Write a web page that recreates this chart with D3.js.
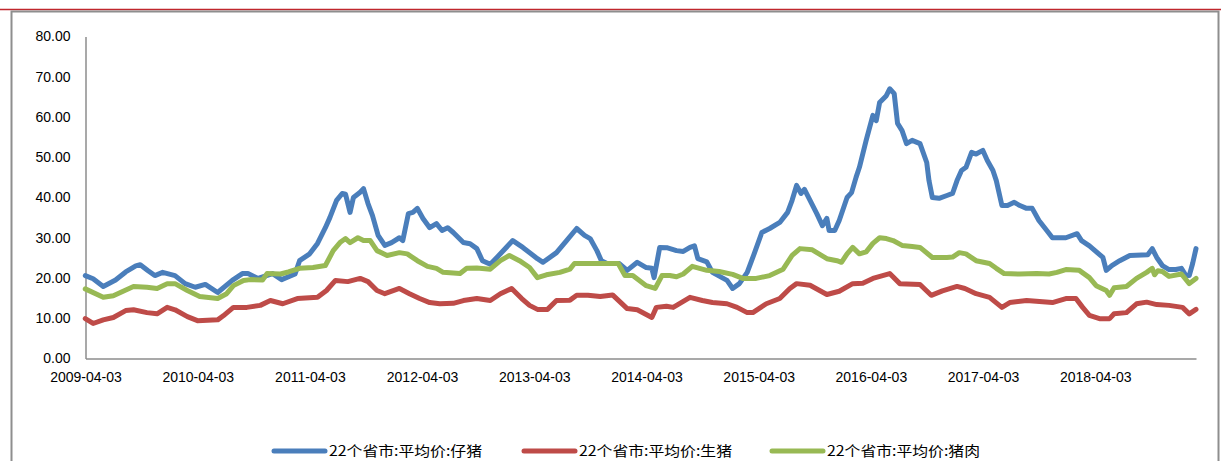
<!DOCTYPE html>
<html><head><meta charset="utf-8">
<script src="https://cdn.jsdelivr.net/npm/d3@7"></script>
<style>
html,body{margin:0;padding:0;background:#fff;overflow:hidden;}
svg{display:block;}
</style></head>
<body>
<script>
// time in decimal years, values in 元/公斤
const seriesNames = ["22个省市:平均价:仔猪", "22个省市:平均价:生猪", "22个省市:平均价:猪肉"];
const seriesColors = ["#4a7ebb", "#be4b48", "#98b954"];
const xTickLabels = ["2009-04-03","2010-04-03","2011-04-03","2012-04-03","2013-04-03","2014-04-03","2015-04-03","2016-04-03","2017-04-03","2018-04-03"];
const yTicks = [0,10,20,30,40,50,60,70,80];

const piglet = [
[2009.25,20.6],[2009.32,19.8],[2009.41,17.9],[2009.52,19.5],[2009.61,21.5],[2009.70,23.0],[2009.74,23.3],[2009.81,21.8],[2009.87,20.6],[2009.94,21.4],
[2010.05,20.6],[2010.14,18.6],[2010.23,17.7],[2010.32,18.4],[2010.43,16.4],[2010.56,19.4],[2010.65,21.1],[2010.70,21.1],[2010.79,19.9],[2010.92,21.1],
[2011.00,19.6],[2011.12,21.0],[2011.16,24.3],[2011.25,26.0],[2011.32,28.6],[2011.39,32.5],[2011.43,35.0],[2011.49,39.3],[2011.54,41.0],[2011.57,40.8],
[2011.61,36.3],[2011.64,40.0],[2011.70,41.3],[2011.73,42.2],[2011.77,38.5],[2011.81,35.5],[2011.86,30.6],[2011.92,28.1],[2011.98,28.8],[2012.05,30.0],
[2012.08,29.3],[2012.13,36.0],[2012.17,36.3],[2012.21,37.3],[2012.26,34.8],[2012.32,32.5],[2012.38,33.5],[2012.43,31.8],[2012.48,32.5],[2012.53,31.3],
[2012.62,28.8],[2012.68,28.5],[2012.74,27.3],[2012.79,24.3],[2012.86,23.4],[2012.95,26.0],[2013.06,29.3],[2013.15,27.6],[2013.28,24.8],[2013.33,23.9],
[2013.45,26.3],[2013.54,29.3],[2013.63,32.3],[2013.70,30.6],[2013.75,29.8],[2013.81,26.8],[2013.85,24.3],[2013.90,23.6],[2014.01,23.6],[2014.08,21.9],
[2014.17,23.9],[2014.25,22.6],[2014.30,22.4],[2014.32,20.1],[2014.37,27.6],[2014.44,27.5],[2014.52,26.8],[2014.58,26.6],[2014.64,27.6],[2014.68,28.0],
[2014.71,24.8],[2014.79,24.0],[2014.84,21.4],[2014.97,19.4],[2015.02,17.4],[2015.08,18.6],[2015.15,21.4],[2015.20,25.1],[2015.28,31.3],[2015.35,32.3],
[2015.44,33.8],[2015.51,36.3],[2015.55,39.3],[2015.59,43.0],[2015.63,41.0],[2015.66,42.0],[2015.71,39.3],[2015.77,36.0],[2015.82,33.0],[2015.86,34.8],
[2015.88,31.8],[2015.93,31.8],[2015.97,34.3],[2016.04,40.0],[2016.08,41.2],[2016.12,45.0],[2016.15,47.5],[2016.21,54.2],[2016.27,60.4],[2016.30,59.1],
[2016.33,63.6],[2016.39,65.3],[2016.42,67.0],[2016.46,65.8],[2016.49,58.4],[2016.53,56.6],[2016.57,53.4],[2016.62,54.2],[2016.69,53.4],[2016.75,48.7],
[2016.77,44.2],[2016.80,40.0],[2016.86,39.8],[2016.93,40.5],[2016.98,41.0],[2017.02,44.2],[2017.06,46.7],[2017.10,47.5],[2017.15,51.2],[2017.19,50.8],
[2017.25,51.7],[2017.29,49.2],[2017.34,46.7],[2017.37,44.2],[2017.42,38.0],[2017.47,38.0],[2017.53,38.8],[2017.58,38.0],[2017.64,37.3],[2017.69,37.3],
[2017.75,34.3],[2017.82,31.8],[2017.87,30.0],[2017.99,30.0],[2018.09,31.0],[2018.13,29.3],[2018.20,28.0],[2018.32,25.1],[2018.35,21.9],[2018.40,23.1],
[2018.47,24.3],[2018.56,25.6],[2018.72,25.8],[2018.76,27.3],[2018.80,25.1],[2018.85,23.1],[2018.91,22.1],[2018.97,22.1],[2019.02,22.4],[2019.06,20.6],
[2019.09,20.6],[2019.12,23.6],[2019.15,27.3]
];

const hog = [
[2009.25,9.9],[2009.32,8.7],[2009.41,9.6],[2009.50,10.2],[2009.61,11.9],[2009.68,12.1],[2009.80,11.4],[2009.89,11.1],[2009.98,12.7],[2010.05,12.1],
[2010.16,10.4],[2010.25,9.4],[2010.43,9.6],[2010.48,10.6],[2010.57,12.7],[2010.69,12.7],[2010.81,13.2],[2010.90,14.4],[2011.01,13.6],[2011.14,14.9],
[2011.32,15.2],[2011.40,16.9],[2011.48,19.4],[2011.59,19.1],[2011.70,19.9],[2011.77,19.1],[2011.85,16.9],[2011.92,16.1],[2012.05,17.4],[2012.14,16.1],
[2012.23,14.9],[2012.32,13.9],[2012.41,13.6],[2012.53,13.7],[2012.62,14.4],[2012.74,14.9],[2012.86,14.4],[2012.95,16.1],[2013.05,17.4],[2013.14,14.9],
[2013.21,13.2],[2013.28,12.2],[2013.37,12.2],[2013.45,14.4],[2013.57,14.5],[2013.63,15.7],[2013.73,15.7],[2013.84,15.4],[2013.95,15.8],[2014.08,12.4],
[2014.17,12.1],[2014.30,10.2],[2014.34,12.7],[2014.43,13.0],[2014.49,12.7],[2014.64,15.2],[2014.75,14.4],[2014.84,13.9],[2014.97,13.6],[2015.06,12.7],
[2015.15,11.4],[2015.20,11.4],[2015.32,13.6],[2015.44,14.9],[2015.53,17.4],[2015.59,18.6],[2015.71,18.2],[2015.86,15.9],[2015.97,16.7],[2016.09,18.6],
[2016.18,18.7],[2016.27,19.9],[2016.42,21.1],[2016.51,18.6],[2016.69,18.4],[2016.79,15.7],[2016.89,16.8],[2017.02,17.9],[2017.09,17.4],[2017.19,16.1],
[2017.31,15.2],[2017.42,12.7],[2017.49,13.9],[2017.64,14.4],[2017.87,13.9],[2017.99,14.9],[2018.08,14.9],[2018.14,12.7],[2018.20,10.7],[2018.29,9.9],
[2018.38,9.9],[2018.42,11.1],[2018.53,11.4],[2018.62,13.6],[2018.71,14.0],[2018.80,13.4],[2018.91,13.2],[2019.03,12.7],[2019.09,11.1],[2019.15,12.2]
];

const pork = [
[2009.25,17.3],[2009.41,15.2],[2009.50,15.6],[2009.68,17.9],[2009.80,17.7],[2009.89,17.4],[2009.98,18.6],[2010.05,18.6],[2010.16,16.9],[2010.27,15.4],
[2010.43,14.9],[2010.51,16.1],[2010.57,18.1],[2010.66,19.4],[2010.72,19.6],[2010.83,19.5],[2010.87,21.1],[2010.99,21.0],[2011.06,21.5],[2011.16,22.4],
[2011.28,22.6],[2011.39,23.1],[2011.46,26.8],[2011.52,28.8],[2011.57,29.8],[2011.61,28.8],[2011.68,30.0],[2011.73,29.3],[2011.79,29.3],[2011.85,26.8],
[2011.94,25.6],[2012.05,26.3],[2012.12,26.0],[2012.21,24.3],[2012.30,22.9],[2012.38,22.4],[2012.44,21.4],[2012.59,21.1],[2012.65,22.4],[2012.74,22.5],
[2012.86,22.2],[2012.95,24.3],[2013.03,25.6],[2013.12,24.3],[2013.21,22.6],[2013.28,20.1],[2013.36,20.8],[2013.48,21.4],[2013.57,22.2],[2013.61,23.6],
[2013.72,23.6],[2013.84,23.6],[2014.00,23.6],[2014.06,20.6],[2014.13,20.6],[2014.25,18.1],[2014.33,17.4],[2014.39,20.6],[2014.46,20.6],[2014.52,20.3],
[2014.58,21.0],[2014.66,22.9],[2014.79,21.9],[2014.90,21.6],[2015.02,20.9],[2015.11,19.9],[2015.23,19.9],[2015.35,20.6],[2015.47,22.2],[2015.55,25.6],
[2015.62,27.3],[2015.73,27.0],[2015.86,24.8],[2015.95,24.3],[2015.99,23.9],[2016.04,26.0],[2016.09,27.6],[2016.15,26.0],[2016.21,26.5],[2016.27,28.6],
[2016.33,30.0],[2016.39,29.8],[2016.45,29.3],[2016.53,28.1],[2016.62,27.8],[2016.69,27.6],[2016.80,25.1],[2016.93,25.1],[2016.98,25.2],[2017.04,26.3],
[2017.10,26.0],[2017.19,24.3],[2017.31,23.6],[2017.37,22.4],[2017.44,21.1],[2017.58,21.0],[2017.73,21.1],[2017.84,21.0],[2017.91,21.4],[2017.99,22.1],
[2018.11,21.9],[2018.20,20.1],[2018.26,18.1],[2018.35,16.9],[2018.38,15.7],[2018.42,17.6],[2018.53,17.9],[2018.62,19.9],[2018.71,21.4],[2018.76,22.4],
[2018.78,20.8],[2018.81,21.8],[2018.85,21.6],[2018.91,20.4],[2019.02,21.0],[2019.09,18.6],[2019.15,19.9]
];

const W = 1221, H = 461;
const svg = d3.select("body").append("svg").attr("width", W).attr("height", H);

// top red rule and chart frame
svg.append("line").attr("x1",0).attr("x2",W).attr("y1",9.5).attr("y2",9.5)
  .attr("stroke","#c0272d").attr("stroke-width",1.5);
svg.append("rect").attr("x",11.5).attr("y",11.5).attr("width",1207).attr("height",470)
  .attr("fill","none").attr("stroke","#8e8e8e").attr("stroke-width",2);

const tickYears = xTickLabels.map((d,i) => 2009.252 + i);
const x = d3.scaleLinear().domain([2009.252, 2019.15]).range([85.5, 1196]);
const y = d3.scaleLinear().domain([0, 80]).range([358.5, 36.5]);

const font = "'Liberation Sans', Arial, sans-serif";

// Y axis
const yAxis = d3.axisLeft(y).tickValues(yTicks).tickFormat(d3.format(".2f")).tickSize(0).tickPadding(15);
const gy = svg.append("g").attr("transform","translate(85.5,0)").call(yAxis);
gy.select(".domain").attr("stroke","#8c8c8c").attr("stroke-width",1.5);
gy.selectAll("text").attr("font-family",font).attr("font-size",14).attr("fill","#000");

// X axis
const xAxis = d3.axisBottom(x).tickValues(tickYears).tickFormat((d,i) => xTickLabels[i]).tickSize(0).tickPadding(14);
const gx = svg.append("g").attr("transform","translate(0,358.5)").call(xAxis);
gx.select(".domain").attr("stroke","#8c8c8c").attr("stroke-width",1.5);
gx.selectAll("text").attr("font-family",font).attr("font-size",14).attr("fill","#000");

// lines
const line = d3.line().x(d => x(d[0])).y(d => y(d[1])).curve(d3.curveLinear);
const seriesData = [piglet, hog, pork];
seriesData.forEach((data, i) => {
  svg.append("path").datum(data).attr("d", line)
    .attr("fill","none").attr("stroke", seriesColors[i]).attr("stroke-width",5)
    .attr("stroke-linejoin","round").attr("stroke-linecap","round");
});

// legend
const legendX = [272, 522, 770];
const lg = svg.append("g");
seriesNames.forEach((name, i) => {
  const g = lg.append("g").attr("transform", `translate(${legendX[i]},451)`);
  g.append("line").attr("x1",2).attr("x2",53).attr("y1",0).attr("y2",0)
    .attr("stroke", seriesColors[i]).attr("stroke-width",5).attr("stroke-linecap","round");
  g.append("text").attr("x",57).attr("y",0).attr("dy","0.36em")
    .attr("font-family","'Noto Sans CJK SC', sans-serif").attr("font-size",14).attr("fill","#000")
    .attr("textLength",153).attr("lengthAdjust","spacingAndGlyphs")
    .text(name);
});
</script>
</body></html>
